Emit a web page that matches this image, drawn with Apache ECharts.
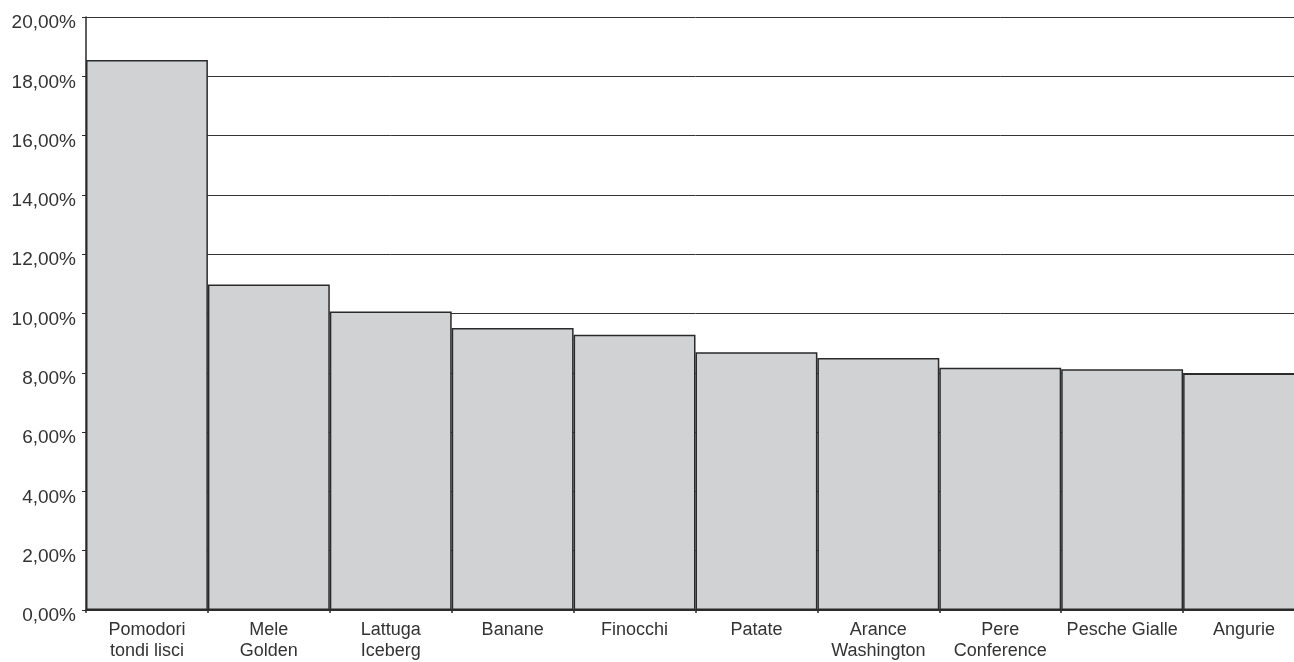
<!DOCTYPE html>
<html>
<head>
<meta charset="utf-8">
<script src="https://cdn.jsdelivr.net/npm/echarts@6/dist/echarts.min.js"></script>
<style>
html,body{margin:0;padding:0;background:#fff;overflow:hidden;}
#chart{width:1305px;height:662px;}
</style>
</head>
<body>
<div id="chart"></div>
<script>
const categories = ["Pomodori\ntondi lisci","Mele\nGolden","Lattuga\nIceberg","Banane","Finocchi","Patate","Arance\nWashington","Pere\nConference","Pesche Gialle","Angurie"];
const values = [18.55, 10.98, 10.07, 9.51, 9.28, 8.69, 8.50, 8.17, 8.12, 7.98];
const yMin = 0, yMax = 20, yStep = 2;

const chart = echarts.init(document.getElementById('chart'), null, {renderer:'canvas'});
chart.setOption({
  animation:false,
  grid:{left:86,right:0,top:17,bottom:51,containLabel:false},
  xAxis:{
    type:'category',
    data:categories,
    axisLine:{show:true,lineStyle:{color:'#2a2a2a',width:1.5}},
    axisTick:{show:true,length:3,alignWithLabel:false,lineStyle:{color:'#2a2a2a',width:1.5}},
    axisLabel:{color:'#333',fontSize:18,fontFamily:'Liberation Sans, Arial, sans-serif',lineHeight:21,margin:10,interval:0}
  },
  yAxis:{
    type:'value',min:yMin,max:yMax,interval:yStep,
    axisLine:{show:true,lineStyle:{color:'#2a2a2a',width:1.5}},
    axisTick:{show:true,length:4,lineStyle:{color:'#2a2a2a',width:1}},
    splitLine:{show:true,lineStyle:{color:'#333',width:1}},
    axisLabel:{color:'#333',fontSize:19,fontFamily:'Liberation Sans, Arial, sans-serif',margin:10,
      verticalAlign:'top',lineHeight:12,
      formatter:v=>v.toFixed(2).replace('.',',')+'%'}
  },
  series:[{
    type:'bar',
    data:values,
    barCategoryGap:'0%',
    itemStyle:{color:'#d1d2d4',borderColor:'#2a2a2a',borderWidth:1.5}
  }]
});
</script>
</body>
</html>
